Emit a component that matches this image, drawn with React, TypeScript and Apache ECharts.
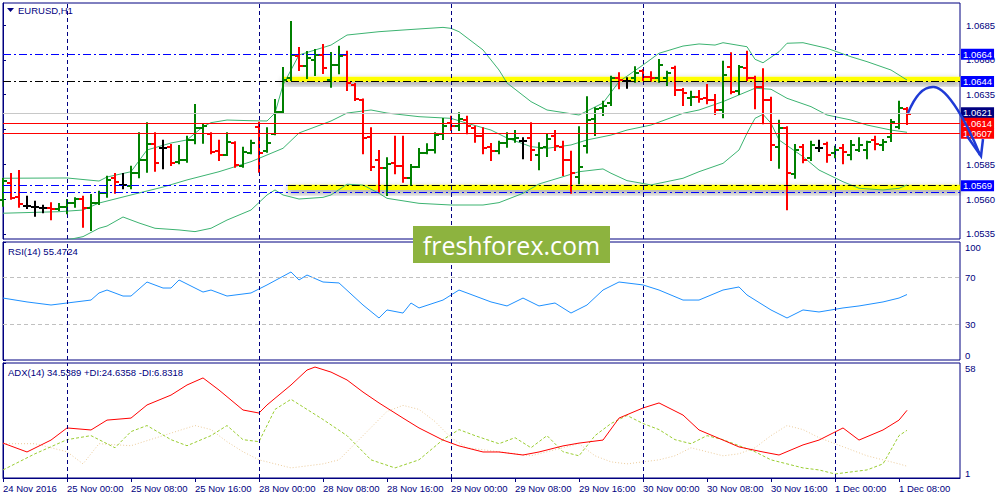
import React, { useEffect, useRef } from "react";
import * as echarts from "echarts";

const FONT = "'Liberation Sans', Arial, sans-serif";
const NAVY = "#000080";
const X_MAX = 119.625;

const xTickBars = [0, 8, 16, 24, 32, 40, 48, 56, 64, 72, 80, 88, 96, 104, 112];
const xTickLabels = [
  "24 Nov 2016", "25 Nov 00:00", "25 Nov 08:00", "25 Nov 16:00", "28 Nov 00:00",
  "28 Nov 08:00", "28 Nov 16:00", "29 Nov 00:00", "29 Nov 08:00", "29 Nov 16:00",
  "30 Nov 00:00", "30 Nov 08:00", "30 Nov 16:00", "1 Dec 00:00", "1 Dec 08:00",
];
const daySeparatorBars = [8, 32, 56, 80, 104];
const priceTicks = [1.0535, 1.056, 1.0585, 1.061, 1.0635, 1.066, 1.0685];
// 1.0610 is hidden behind the red price boxes in the reference
const priceTickLabels = [1.0535, 1.056, 1.0585, 1.0635, 1.066, 1.0685];
const rsiTicks = [0, 30, 70, 100];
const rsiLevels = [30, 70];
const adxTicks = [1, 58];

// horizontal price levels: value, colour, style, label text, label background
const levelValues = [1.0664, 1.06445, 1.0622, 1.06145, 1.06073, 1.05649];
const levelColors = ["#0000FF", "#000000", "#C8C8C8", "#FF0000", "#FF0000", "#0000FF"];
const levelDashed = [true, true, false, false, false, true];
const levelLabels = ["1.0664", "1.0644", "1.0621", "1.0614", "1.0607", ""];
const levelLabelBg = ["#0000FF", "#0000FF", "#000080", "#FF0000", "#FF0000", ""];
const supportLevel = 1.05697;
const supportLabel = "1.0569";
const yellowZones = [
  { from: 35, top: 1.06478, bottom: 1.06442 },
  { from: 35.6, top: 1.05703, bottom: 1.05665 },
];

const opens = [1.05594,1.05716,1.05616,1.05553,1.05546,1.05534,1.05537,1.05526,1.05544,1.05572,
1.05601,1.05537,1.05572,1.05644,1.05752,1.05702,1.05695,1.05788,1.05881,1.05996,
1.05967,1.05974,1.05867,1.05881,1.06025,1.06111,1.06068,1.05946,1.05917,1.06003,
1.05838,1.05931,1.06118,1.05946,1.06068,1.06226,1.06470,1.06628,1.06556,1.06599,
1.06635,1.06455,1.06563,1.06635,1.06419,1.06312,1.06046,1.05881,1.05824,1.05860,
1.05838,1.05752,1.05833,1.05934,1.05953,1.06068,1.06147,1.06125,1.06168,1.06111,
1.06053,1.05977,1.05948,1.06003,1.06032,1.06020,1.06039,1.05917,1.05974,1.06056,
1.05977,1.05881,1.05761,1.05980,1.06175,1.06252,1.06292,1.06467,1.06450,1.06467,
1.06522,1.06479,1.06467,1.06470,1.06541,1.06383,1.06326,1.06333,1.06326,1.06312,
1.06240,1.06551,1.06376,1.06539,1.06467,1.06405,1.06312,1.05977,1.06111,1.05779,
1.05974,1.05896,1.05969,1.05996,1.05931,1.05967,1.05917,1.05953,1.05953,1.06025,
1.05989,1.06046,1.06120,1.06245];
const highs = [1.05745,1.05781,1.05802,1.05618,1.05582,1.05553,1.05570,1.05565,1.05594,1.05606,
1.05618,1.05630,1.05654,1.05761,1.05781,1.05781,1.05833,1.06073,1.06145,1.06073,
1.06020,1.05989,1.05982,1.06048,1.06276,1.06132,1.06073,1.06020,1.06073,1.06008,
1.05969,1.06020,1.06149,1.06109,1.06312,1.06541,1.06872,1.06685,1.06656,1.06671,
1.06706,1.06649,1.06694,1.06658,1.06427,1.06316,1.06109,1.05946,1.05893,1.06048,
1.06048,1.05845,1.05960,1.05994,1.06073,1.06175,1.06192,1.06216,1.06192,1.06120,
1.06109,1.05996,1.06012,1.06073,1.06089,1.06037,1.06145,1.06001,1.06060,1.06089,
1.06012,1.05941,1.06116,1.06331,1.06252,1.06300,1.06479,1.06503,1.06467,1.06546,
1.06527,1.06511,1.06599,1.06515,1.06551,1.06390,1.06371,1.06376,1.06419,1.06347,
1.06587,1.06647,1.06556,1.06658,1.06479,1.06532,1.06328,1.06163,1.06116,1.05989,
1.05989,1.06012,1.06020,1.06005,1.05977,1.05989,1.06018,1.06037,1.06012,1.06048,
1.06025,1.06168,1.06300,1.06254];
const lows = [1.05553,1.05603,1.05546,1.05537,1.05481,1.05506,1.05456,1.05522,1.05499,1.05546,
1.05402,1.05379,1.05565,1.05618,1.05646,1.05678,1.05678,1.05757,1.05797,1.05804,
1.05822,1.05845,1.05857,1.05869,1.06001,1.06005,1.05929,1.05881,1.05917,1.05833,
1.05833,1.05929,1.05797,1.05941,1.06066,1.06220,1.06455,1.06527,1.06470,1.06491,
1.06506,1.06407,1.06503,1.06383,1.06312,1.05929,1.05809,1.05654,1.05630,1.05786,
1.05725,1.05701,1.05830,1.05929,1.05934,1.06032,1.06096,1.06096,1.06073,1.06012,
1.05929,1.05881,1.05929,1.05977,1.06012,1.05893,1.05881,1.05814,1.05910,1.05953,
1.05773,1.05646,1.05714,1.05934,1.06060,1.06204,1.06276,1.06396,1.06400,1.06443,
1.06455,1.06450,1.06443,1.06419,1.06347,1.06276,1.06276,1.06300,1.06288,1.06211,
1.06188,1.06360,1.06355,1.06455,1.06252,1.06145,1.05881,1.05826,1.05527,1.05754,
1.05865,1.05881,1.05946,1.05869,1.05901,1.05857,1.05886,1.05946,1.05893,1.05958,
1.05953,1.06018,1.06109,1.06139];
const closes = [1.05730,1.05608,1.05565,1.05553,1.05546,1.05534,1.05526,1.05547,1.05572,1.05601,
1.05534,1.05572,1.05644,1.05738,1.05723,1.05702,1.05788,1.05881,1.05996,1.05860,
1.05967,1.05860,1.05881,1.06025,1.06111,1.06125,1.05939,1.05917,1.06010,1.05845,
1.05939,1.06003,1.05931,1.06003,1.06226,1.06455,1.06635,1.06556,1.06613,1.06635,
1.06541,1.06563,1.06628,1.06434,1.06319,1.06039,1.05831,1.05824,1.05852,1.05838,
1.05752,1.05833,1.05934,1.05953,1.06060,1.06125,1.06125,1.06175,1.06125,1.06053,
1.05969,1.05948,1.06005,1.06032,1.06037,1.06020,1.05953,1.05965,1.06032,1.05982,
1.05881,1.05786,1.05833,1.06168,1.06245,1.06269,1.06467,1.06455,1.06450,1.06503,
1.06479,1.06467,1.06563,1.06503,1.06383,1.06360,1.06333,1.06319,1.06312,1.06240,
1.06491,1.06371,1.06549,1.06467,1.06405,1.06312,1.05989,1.06111,1.05788,1.05953,
1.05881,1.05989,1.05969,1.05917,1.05953,1.05939,1.05991,1.05989,1.06010,1.05996,
1.06012,1.06154,1.06254,1.06210];

const bbUpper = [[0,1.05750],[8,1.05752],[12,1.05730],[13,1.05759],[16,1.05797],[18,1.05953],[21,1.06003],[23,1.06025],[25,1.06120],[26,1.06149],[28,1.06168],[31,1.06163],[33,1.06161],[34,1.06218],[35,1.06419],[37,1.06635],[41,1.06706],[43,1.06778],[47,1.06802],[50,1.06814],[55,1.06833],[56,1.06826],[57,1.06802],[60,1.06671],[62,1.06527],[63,1.06434],[66,1.06300],[68,1.06240],[72,1.06204],[75,1.06290],[77,1.06443],[80,1.06563],[82,1.06647],[85,1.06699],[87,1.06714],[89,1.06706],[90,1.06723],[93,1.06694],[94,1.06604],[95,1.06579],[97,1.06658],[98,1.06719],[100,1.06723],[103,1.06683],[106,1.06622],[108,1.06587],[111,1.06527],[113,1.06455]];
const bbMiddle = [[0,1.05499],[7,1.05510],[10,1.05522],[12,1.05572],[16,1.05630],[20,1.05687],[23,1.05738],[27,1.05797],[31,1.05869],[35,1.05965],[37,1.06075],[41,1.06161],[43,1.06218],[46,1.06240],[48,1.06218],[52,1.06192],[56,1.06180],[58,1.06145],[61,1.06096],[63,1.06039],[66,1.05977],[68,1.05965],[71,1.05989],[73,1.06025],[76,1.06060],[78,1.06096],[81,1.06132],[85,1.06216],[87,1.06240],[90,1.06300],[92,1.06348],[94,1.06396],[96,1.06389],[98,1.06324],[101,1.06264],[103,1.06204],[106,1.06168],[108,1.06132],[111,1.06096],[113,1.06080]];
const bbLower = [[6,1.05240],[8,1.05307],[10,1.05331],[12,1.05391],[13,1.05407],[15,1.05472],[17,1.05429],[19,1.05391],[22,1.05379],[24,1.05367],[26,1.05391],[28,1.05450],[31,1.05522],[33,1.05630],[34,1.05666],[35,1.05630],[37,1.05601],[40,1.05613],[41,1.05630],[43,1.05707],[45,1.05701],[47,1.05642],[48,1.05606],[52,1.05570],[56,1.05558],[60,1.05558],[62,1.05575],[65,1.05642],[67,1.05709],[70,1.05761],[72,1.05797],[75,1.05817],[76,1.05786],[78,1.05733],[81,1.05702],[85,1.05750],[87,1.05797],[90,1.05857],[92,1.05953],[93,1.06073],[94,1.06180],[95,1.06209],[96,1.06145],[97,1.06025],[100,1.05905],[102,1.05809],[105,1.05725],[107,1.05678],[110,1.05666],[112,1.05678],[113,1.05702]];

const rsi = [[0,52.5],[3,49.2],[6,46.6],[8,48.3],[11,50.8],[12,56.8],[13,59.3],[15,54.2],[16,54.2],[18,66.1],[20,61],[21,61],[22,67.8],[25,57.6],[26,59.3],[28,54.2],[31,56.8],[33,63.6],[36,74.6],[37,67.8],[38,72],[40,66.1],[42,65.3],[45,46.6],[47,35.6],[48,42.4],[50,39.8],[51,48.3],[52,44.1],[55,50.8],[57,59.3],[58,56.8],[61,49.2],[63,45.8],[65,52.5],[67,45.8],[69,48.3],[71,39.8],[73,46.6],[75,59.3],[77,66.1],[80,63.6],[82,59.3],[85,50.8],[87,50.8],[90,59.3],[92,61.9],[93,55.1],[96,42.4],[98,35.6],[100,42.4],[102,40.7],[105,44.1],[107,45.8],[110,49.2],[112,52.5],[113,55.47]];
const adx = [[0,18.3],[3,13.9],[6,19.8],[8,25.8],[11,24.8],[13,29.7],[16,30.7],[18,37.2],[21,42.1],[23,47.1],[25,50.6],[27,44.6],[30,34.7],[32,33.2],[33,37.2],[36,47.1],[38,54.5],[39,56],[41,53.5],[43,49.6],[45,43.6],[47,38.2],[50,30.7],[52,25.8],[55,19.8],[57,16.9],[60,13.9],[62,13.9],[65,12.4],[67,13.9],[70,16.9],[72,18.3],[75,19.8],[77,30.7],[80,35.7],[82,38.2],[85,32.2],[87,24.8],[90,19.8],[92,16.4],[95,13.9],[97,12.4],[100,17.4],[102,19.8],[105,25.8],[107,19.8],[110,24.8],[112,29.7],[113,34.54]];
const plusDI = [[0,5],[4,13],[8,20],[11,22],[14,16],[16,24],[18,27],[21,20],[23,17],[26,22],[28,27],[30,20],[32,19],[34,35],[36,40],[38,35],[40,30],[43,22],[46,10],[49,6],[52,10],[55,20],[57,25],[59,22],[62,18],[64,21],[66,16],[68,22],[70,14],[72,12],[74,22],[76,28],[78,32],[80,28],[82,25],[84,20],[86,18],[88,22],[90,20],[92,17],[94,14],[96,10],[98,8],[100,6],[102,5],[104,3],[106,4],[108,5],[110,8],[112,22],[113,24.64]];
const minusDI = [[0,18],[4,18],[8,14],[10,8],[12,18],[16,17],[20,22],[24,27],[26,25],[28,19],[30,14],[32,10],[34,8],[36,6],[38,7],[40,8],[42,10],[44,18],[46,26],[48,34],[50,37],[52,35],[54,29],[56,21],[58,16],[60,15],[62,14],[64,13],[66,12],[68,14],[70,16],[72,18],[74,12],[76,9],[78,8],[80,9],[82,10],[84,12],[86,16],[88,14],[90,12],[92,13],[94,16],[96,22],[98,27],[100,25],[102,21],[104,18],[106,15],[108,12],[110,10],[112,8],[113,6.83]];

const dashDot = [8, 3, 2, 3];

const boxLabel = (text: string, bg: string) => ({
  show: true,
  position: "end",
  distance: 1,
  formatter: text,
  color: "#ffffff",
  backgroundColor: bg,
  padding: [1, 2, 0, 2],
  fontSize: 9.5,
  fontFamily: FONT,
});

const segment = (x1: number, x2: number, v: number, color: string, type: any, label: any) => {
  const ls = { color, type, width: 1 };
  return [
    { coord: [x1, v], lineStyle: ls, label },
    { coord: [x2, v], lineStyle: ls, label },
  ];
};

function buildOption() {
  const ohlc = opens.map((o, i) => [i, o, highs[i], lows[i], closes[i]]);
  const sepLines = daySeparatorBars.map((b) => ({
    xAxis: b,
    lineStyle: { color: NAVY, type: [4, 3], width: 1 },
    label: { show: false },
  }));
  const levelLines = levelValues.map((v, k) =>
    segment(0, X_MAX, v, levelColors[k], levelDashed[k] ? dashDot : "solid",
      levelLabels[k] ? boxLabel(levelLabels[k], levelLabelBg[k]) : { show: false })
  );
  const supportLines = [
    segment(0, yellowZones[1].from, supportLevel, "#0000FF", dashDot, { show: false }),
    segment(yellowZones[1].from, X_MAX, supportLevel, "#000000", dashDot, boxLabel(supportLabel, "#0000FF")),
  ];
  const zoneStyle = { color: "#FFFF00", shadowColor: "rgba(0,0,0,0.45)", shadowBlur: 6, shadowOffsetY: 3 };
  const xBase = {
    type: "value",
    min: 0,
    max: X_MAX,
    axisLine: { show: false },
    axisTick: { show: false },
    axisLabel: { show: false },
    splitLine: { show: false },
  };
  const gridBase = { show: true, borderColor: NAVY, borderWidth: 1, backgroundColor: "transparent", left: 3, width: 957 };
  const yLabel = { color: NAVY, fontSize: 9.5, fontFamily: FONT, margin: 5 };
  return {
    animation: false,
    backgroundColor: "#ffffff",
    grid: [
      { ...gridBase, top: 3, height: 236 },
      { ...gridBase, top: 242, height: 118 },
      { ...gridBase, top: 363, height: 115 },
    ],
    xAxis: [
      { ...xBase, gridIndex: 0 },
      { ...xBase, gridIndex: 1 },
      {
        ...xBase,
        gridIndex: 2,
        axisLine: { show: true, lineStyle: { color: NAVY } },
        axisTick: { show: true, customValues: xTickBars, length: 4, lineStyle: { color: NAVY } },
        axisLabel: {
          show: true,
          customValues: xTickBars,
          formatter: (v: number) => {
            const k = xTickBars.indexOf(Math.round(v));
            return k >= 0 ? xTickLabels[k] : "";
          },
          align: "left",
          color: NAVY,
          fontSize: 9.5,
          fontFamily: FONT,
          margin: 5,
        },
      },
    ],
    yAxis: [
      {
        type: "value", gridIndex: 0, position: "right", min: 1.05314, max: 1.07008,
        splitLine: { show: false },
        axisLine: { show: true, lineStyle: { color: NAVY } },
        axisTick: { show: true, customValues: priceTicks, length: 3, lineStyle: { color: NAVY } },
        axisLabel: { ...yLabel, margin: 6, customValues: priceTickLabels, formatter: (v: number) => v.toFixed(4) },
      },
      {
        type: "value", gridIndex: 1, position: "right", min: 0, max: 100,
        splitLine: { show: false },
        axisLine: { show: true, lineStyle: { color: NAVY } },
        axisTick: { show: true, customValues: rsiTicks, length: 3, lineStyle: { color: NAVY } },
        axisLabel: { ...yLabel, customValues: rsiTicks, verticalAlignMinLabel: "bottom", verticalAlignMaxLabel: "top" },
      },
      {
        type: "value", gridIndex: 2, position: "right", min: 1, max: 58,
        splitLine: { show: false },
        axisLine: { show: true, lineStyle: { color: NAVY } },
        axisTick: { show: true, customValues: adxTicks, length: 3, lineStyle: { color: NAVY } },
        axisLabel: { ...yLabel, customValues: adxTicks, verticalAlignMinLabel: "bottom", verticalAlignMaxLabel: "top" },
      },
    ],
    series: [
      {
        name: "BB middle",
        type: "line",
        xAxisIndex: 0,
        yAxisIndex: 0,
        data: bbMiddle,
        symbol: "none",
        silent: true,
        z: 2,
        lineStyle: { color: "#3CB371", width: 1 },
        markArea: {
          silent: true,
          z: 1,
          data: yellowZones.map((zn) => [
            { xAxis: zn.from, yAxis: zn.top, itemStyle: zoneStyle },
            { xAxis: X_MAX, yAxis: zn.bottom },
          ]),
        },
        markLine: {
          silent: true,
          symbol: ["none", "none"],
          data: [...sepLines, ...levelLines, ...supportLines],
        },
      },
      { name: "BB upper", type: "line", xAxisIndex: 0, yAxisIndex: 0, data: bbUpper, symbol: "none", silent: true, z: 2, lineStyle: { color: "#3CB371", width: 1 } },
      { name: "BB lower", type: "line", xAxisIndex: 0, yAxisIndex: 0, data: bbLower, symbol: "none", silent: true, z: 2, lineStyle: { color: "#3CB371", width: 1 } },
      {
        name: "EURUSD",
        type: "custom",
        xAxisIndex: 0,
        yAxisIndex: 0,
        z: 3,
        silent: true,
        data: ohlc,
        encode: { x: 0, y: [1, 2, 3, 4] },
        renderItem: (params: any, api: any) => {
          const i = api.value(0);
          const ov = api.value(1);
          const cv = api.value(4);
          const o = api.coord([i, ov]);
          const h = api.coord([i, api.value(2)]);
          const l = api.coord([i, api.value(3)]);
          const c = api.coord([i, cv]);
          const color = cv > ov ? "#008000" : cv < ov ? "#FF0000" : "#000000";
          const x = Math.round(h[0]);
          const st = { stroke: color, lineWidth: 2 };
          return {
            type: "group",
            children: [
              { type: "line", shape: { x1: x, y1: h[1] - 1, x2: x, y2: l[1] + 1 }, style: st },
              { type: "line", shape: { x1: x - 4, y1: Math.round(o[1]), x2: x, y2: Math.round(o[1]) }, style: st },
              { type: "line", shape: { x1: x, y1: Math.round(c[1]), x2: x + 4, y2: Math.round(c[1]) }, style: st },
            ],
          };
        },
      },
      {
        name: "RSI",
        type: "line",
        xAxisIndex: 1,
        yAxisIndex: 1,
        data: rsi,
        symbol: "none",
        silent: true,
        lineStyle: { color: "#1E90FF", width: 1 },
        markLine: {
          silent: true,
          symbol: ["none", "none"],
          data: [
            ...rsiLevels.map((v) => segment(0, X_MAX, v, "#C0C0C0", [4, 3], { show: false })),
            ...sepLines,
          ],
        },
      },
      { name: "-DI", type: "line", xAxisIndex: 2, yAxisIndex: 2, data: minusDI, symbol: "none", silent: true, lineStyle: { color: "#EBCB9B", width: 1, type: [1, 2] } },
      { name: "+DI", type: "line", xAxisIndex: 2, yAxisIndex: 2, data: plusDI, symbol: "none", silent: true, lineStyle: { color: "#9ACD32", width: 1, type: [3, 2] } },
      {
        name: "ADX",
        type: "line",
        xAxisIndex: 2,
        yAxisIndex: 2,
        data: adx,
        symbol: "none",
        silent: true,
        lineStyle: { color: "#FF0000", width: 1 },
        markLine: { silent: true, symbol: ["none", "none"], data: sepLines },
      },
    ],
    graphic: [
      { type: "polygon", shape: { points: [[7, 8], [14, 8], [10.5, 12]] }, style: { fill: NAVY }, z: 10 },
      { type: "text", x: 18, y: 10, style: { text: "EURUSD,H1", fill: NAVY, font: `9.5px ${FONT}`, verticalAlign: "middle" }, z: 10 },
      { type: "text", x: 8, y: 251, style: { text: "RSI(14) 55.4724", fill: NAVY, font: `9.5px ${FONT}`, verticalAlign: "middle" }, z: 10 },
      { type: "text", x: 8, y: 372, style: { text: "ADX(14) 34.5389 +DI:24.6358 -DI:6.8318", fill: NAVY, font: `9.5px ${FONT}`, verticalAlign: "middle" }, z: 10 },
      { type: "rect", shape: { x: 413, y: 226, width: 197, height: 37 }, style: { fill: "#8DB33F" }, z: 20 },
      { type: "text", x: 511.5, y: 244.5, style: { text: "freshforex.com", fill: "#FFFFFF", font: `25px 'Open Sans', sans-serif`, align: "center", verticalAlign: "middle" }, z: 21 },
      {
        type: "bezierCurve",
        shape: { x1: 908, y1: 113, cpx1: 915, cpy1: 96, cpx2: 924, cpy2: 86, x2: 934, y2: 87 },
        style: { stroke: "#1F3AD6", lineWidth: 2.5, fill: "none" },
        z: 20,
      },
      {
        type: "bezierCurve",
        shape: { x1: 934, y1: 87, cpx1: 948, cpy1: 88, cpx2: 968, cpy2: 125, x2: 980, y2: 155 },
        style: { stroke: "#1F3AD6", lineWidth: 2.5, fill: "none" },
        z: 20,
      },
      { type: "polyline", shape: { points: [[967, 136], [981, 156], [983, 139]] }, style: { stroke: "#1F3AD6", lineWidth: 2.5, fill: "none" }, z: 20 },
    ],
  };
}

export default function App() {
  const ref = useRef<HTMLDivElement>(null);
  useEffect(() => {
    if (!ref.current) return;
    const chart = echarts.init(ref.current, null, { renderer: "svg" });
    chart.setOption(buildOption() as any);
    return () => chart.dispose();
  }, []);
  return (
    <div
      ref={ref}
      style={{ position: "fixed", left: 0, top: 0, width: 1000, height: 500, background: "#ffffff" }}
    />
  );
}
